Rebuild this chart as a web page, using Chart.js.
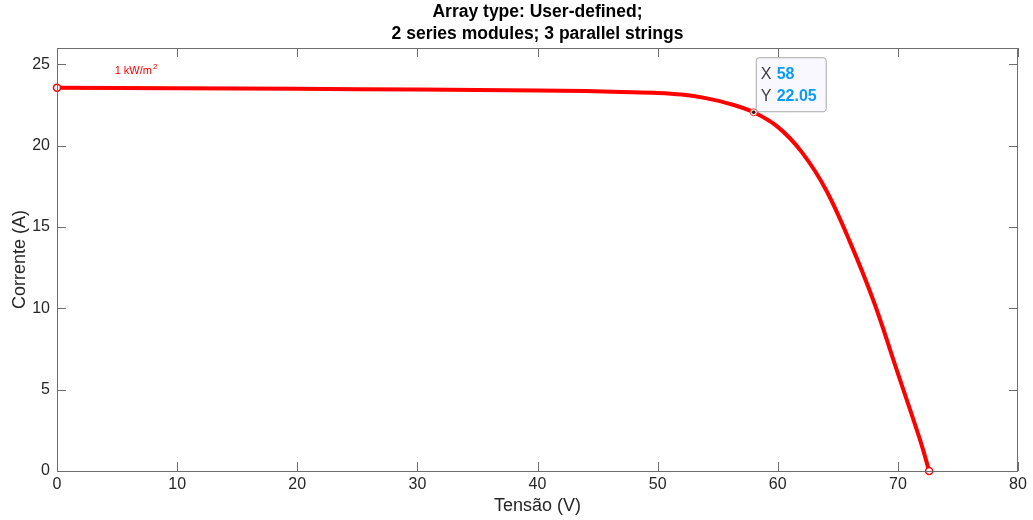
<!DOCTYPE html>
<html>
<head>
<meta charset="utf-8">
<script src="https://cdn.jsdelivr.net/npm/chart.js@4.4.1/dist/chart.umd.min.js"></script>
<style>
  html, body { margin: 0; padding: 0; background: #fff; }
  #wrap { width: 1033px; height: 520px; position: relative; }
</style>
</head>
<body>
<div id="wrap"><canvas id="ivChart"></canvas></div>
<script>
// I-V curve
const voltage = [0, 10, 20, 30, 40, 44, 47, 50, 52, 54, 56, 58, 60, 62, 64, 66, 68, 70, 71, 72, 72.6];
const current = [23.56, 23.52, 23.49, 23.45, 23.39, 23.35, 23.3, 23.24, 23.14, 22.92, 22.57, 22.05, 21.15, 19.6, 17.3, 14.1, 10.4, 6.0, 3.8, 1.55, 0];

const titleLines = ['Array type: User-defined;', '2 series modules; 3 parallel strings'];
const xTicks = [0, 10, 20, 30, 40, 50, 60, 70, 80];
const yTicks = [0, 5, 10, 15, 20, 25];

const tipPoint = { x: 58, y: 22.05 };
const irradianceLabel = { x: 4.8, y: 24.4, text: '1 kW/m', sup: '2' };

const FONT = '"Liberation Sans", Arial, Helvetica, sans-serif';
const AXIS_COLOR = '#6e6e6e';
const TEXT_COLOR = '#262626';

// MATLAB-like box with inward ticks, title over the axes, datatip and irradiance label
const matlabBox = {
  id: 'matlabBox',
  afterDatasetsDraw(chart) {
    const { ctx, chartArea: a, scales: { x, y } } = chart;
    ctx.save();

    // title, centred over the axes
    ctx.fillStyle = '#000';
    ctx.font = 'bold 17.5px ' + FONT;
    ctx.textAlign = 'center';
    ctx.textBaseline = 'middle';
    const cx = (a.left + a.right) / 2;
    titleLines.forEach((t, i) => ctx.fillText(t, cx, 12 + i * 22));
    ctx.textAlign = 'left';

    ctx.strokeStyle = AXIS_COLOR;
    ctx.lineWidth = 1;
    ctx.strokeRect(a.left + 0.5, a.top + 0.5, a.right - a.left - 1, a.bottom - a.top);
    ctx.beginPath();
    const tl = 9;
    xTicks.forEach(v => {
      const px = Math.round(x.getPixelForValue(v)) + 0.5;
      ctx.moveTo(px, a.bottom); ctx.lineTo(px, a.bottom - tl);
      ctx.moveTo(px, a.top); ctx.lineTo(px, a.top + tl);
    });
    yTicks.forEach(v => {
      const py = Math.round(y.getPixelForValue(v)) + 0.5;
      ctx.moveTo(a.left, py); ctx.lineTo(a.left + tl, py);
      ctx.moveTo(a.right, py); ctx.lineTo(a.right - tl, py);
    });
    ctx.stroke();

    // irradiance label
    const lx = x.getPixelForValue(irradianceLabel.x);
    const ly = y.getPixelForValue(irradianceLabel.y);
    ctx.fillStyle = '#ff0000';
    ctx.font = '11px ' + FONT;
    ctx.textBaseline = 'alphabetic';
    ctx.fillText(irradianceLabel.text, lx, ly);
    const w = ctx.measureText(irradianceLabel.text).width;
    ctx.font = '8px ' + FONT;
    ctx.fillText(irradianceLabel.sup, lx + w + 1, ly - 5);

    // datatip
    const px = x.getPixelForValue(tipPoint.x);
    const py = y.getPixelForValue(tipPoint.y);
    ctx.beginPath();
    ctx.arc(px, py, 3.5, 0, Math.PI * 2);
    ctx.fillStyle = '#ffe0e0';
    ctx.fill();
    ctx.strokeStyle = '#ff4040';
    ctx.lineWidth = 1;
    ctx.stroke();
    ctx.beginPath();
    ctx.arc(px, py, 1.8, 0, Math.PI * 2);
    ctx.fillStyle = '#222';
    ctx.fill();

    const bx = px + 2, by = py - 55, bw = 70, bh = 54;
    ctx.beginPath();
    ctx.roundRect(bx + 0.5, by + 0.5, bw, bh, 3);
    ctx.fillStyle = '#f8f8fe';
    ctx.fill();
    ctx.strokeStyle = '#a8a8a8';
    ctx.stroke();
    ctx.textBaseline = 'middle';
    ctx.font = '16px ' + FONT;
    ctx.fillStyle = '#404040';
    ctx.fillText('X', bx + 5, by + 17);
    ctx.fillText('Y', bx + 5, by + 39);
    ctx.font = 'bold 16px ' + FONT;
    ctx.fillStyle = '#0a9cf5';
    ctx.fillText(String(tipPoint.x), bx + 21, by + 17);
    ctx.fillText(tipPoint.y.toFixed(2), bx + 21, by + 39);
    ctx.restore();
  }
};

const lastIdx = voltage.length - 1;

new Chart(document.getElementById('ivChart'), {
  type: 'line',
  data: {
    datasets: [{
      data: voltage.map((v, i) => ({ x: v, y: current[i] })),
      borderColor: '#ff0000',
      borderWidth: 4,
      tension: 0.35,
      fill: false,
      pointRadius: c => (c.dataIndex === 0 || c.dataIndex === lastIdx) ? 3.5 : 0,
      pointBackgroundColor: '#ffffff',
      pointBorderColor: '#ff0000',
      pointBorderWidth: 1.5,
      clip: false,
    }],
  },
  plugins: [matlabBox],
  options: {
    responsive: true,
    maintainAspectRatio: false,
    animation: false,
    layout: { padding: { left: 0, right: 15, top: 48, bottom: 0 } },
    plugins: {
      legend: { display: false },
      tooltip: { enabled: false },
      title: { display: false },
    },
    scales: {
      x: {
        type: 'linear',
        min: 0, max: 80,
        afterFit: s => { s.height = 49; },
        afterBuildTicks: s => { s.ticks = xTicks.map(v => ({ value: v })); },
        ticks: { color: TEXT_COLOR, font: { family: FONT, size: 16 }, padding: 4, maxRotation: 0 },
        grid: { display: false, drawTicks: false },
        border: { display: false },
        title: { display: true, text: 'Tensão (V)', color: TEXT_COLOR, font: { family: FONT, size: 18 }, padding: { top: 0, bottom: 3 } },
      },
      y: {
        type: 'linear',
        min: 0, max: 26,
        afterFit: s => { s.width = 57; },
        afterBuildTicks: s => { s.ticks = yTicks.map(v => ({ value: v })); },
        ticks: { color: TEXT_COLOR, font: { family: FONT, size: 16 }, padding: 7 },
        grid: { display: false, drawTicks: false },
        border: { display: false },
        title: { display: true, text: 'Corrente (A)', color: TEXT_COLOR, font: { family: FONT, size: 18 }, padding: { top: 9, bottom: 0 } },
      },
    },
  },
});
</script>
</body>
</html>
